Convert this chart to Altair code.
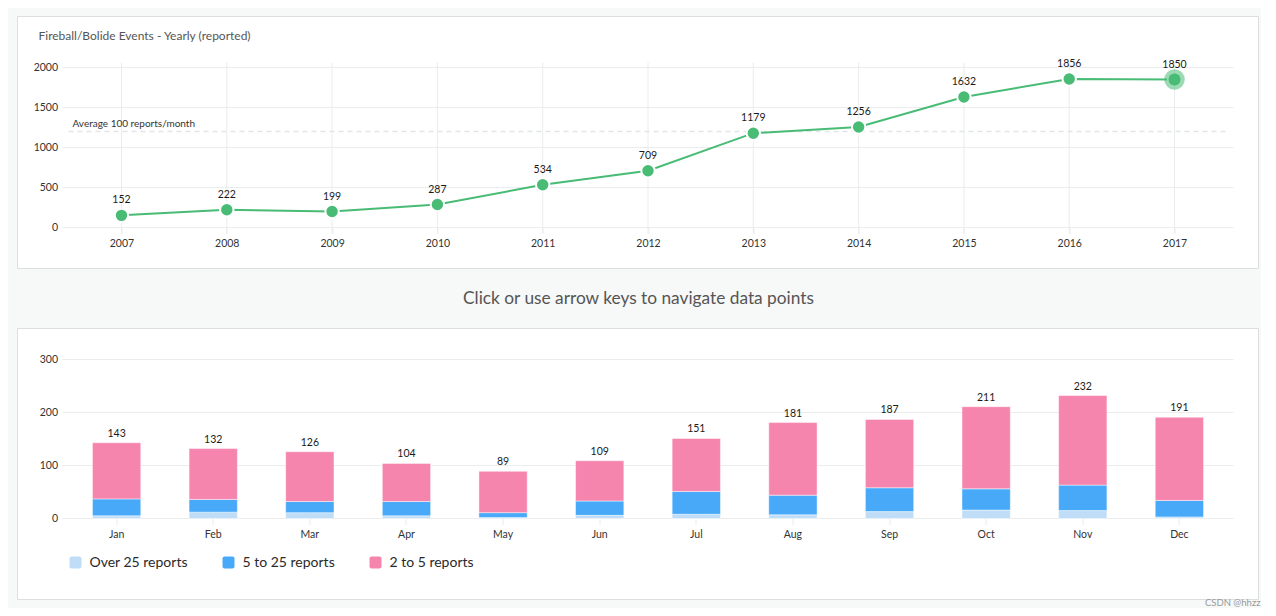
import altair as alt
import pandas as pd

# ---------------- data ----------------
years = ["2007", "2008", "2009", "2010", "2011", "2012", "2013", "2014", "2015", "2016", "2017"]
yearly_reports = [152, 222, 199, 287, 534, 709, 1179, 1256, 1632, 1856, 1850]
selected_year = "2017"
average_monthly = 100
top_y_ticks = [0, 500, 1000, 1500, 2000]

months = ["Jan", "Feb", "Mar", "Apr", "May", "Jun", "Jul", "Aug", "Sep", "Oct", "Nov", "Dec"]
over_25 = [5, 12, 11, 5, 2, 6, 8, 7, 13, 16, 15, 3]
five_to_25 = [32, 24, 21, 27, 9, 27, 43, 37, 45, 40, 48, 31]
two_to_5 = [106, 96, 94, 72, 78, 76, 100, 137, 129, 155, 169, 157]
series_names = ["Over 25 reports", "5 to 25 reports", "2 to 5 reports"]
series_colors = ["#c0ddf7", "#47a9f8", "#f685ae"]
bottom_y_ticks = [0, 100, 200, 300]

# ---------------- styles ----------------
BG = "#f7f8f8"
BORDER = "#dcdee0"
GRID = "#eaecee"
GREEN = "#48bb74"
FONT = "Lato"
W = 1171
H1 = 160
H2 = 159

top_df = pd.DataFrame({"year": years, "reports": yearly_reports})
top_grid_df = pd.DataFrame({"reports": top_y_ticks})

rows = []
for i, m in enumerate(months):
    for j, vals in enumerate([over_25, five_to_25, two_to_5]):
        rows.append({"month": m, "series": series_names[j], "count": vals[i], "ord": j})
bar_df = pd.DataFrame(rows)
bottom_grid_df = pd.DataFrame({"count": bottom_y_ticks})

one_row = alt.Data(values=[{"k": 0}])

# ---------------- top chart ----------------
x_top = alt.X(
    "year:O",
    scale=alt.Scale(type="point", padding=0.56),
    axis=alt.Axis(title=None, labelAngle=0, grid=False, domain=False, ticks=True,
                  tickColor=GRID, tickSize=6, labelPadding=5, labelColor="#333",
                  labelFontSize=10.5, zindex=1),
)
y_top = alt.Y(
    "reports:Q",
    scale=alt.Scale(domain=[0, 2000], nice=False),
    axis=alt.Axis(title=None, values=top_y_ticks, format="d", grid=False, domain=False,
                  ticks=False, labelPadding=5, labelColor="#333", labelFontSize=10.5,
                  zindex=1),
)

panel_top = alt.Chart(one_row).mark_rect(fill="white", stroke=BORDER, strokeWidth=1).encode(
    x=alt.value(-45), x2=alt.value(W + 25), y=alt.value(-51), y2=alt.value(H1 + 41)
)
title_top = alt.Chart(one_row).mark_text(
    text="Fireball/Bolide Events - Yearly (reported)", align="left", baseline="middle",
    fontSize=12, color="#555"
).encode(x=alt.value(-24), y=alt.value(-32))
hgrid_top = alt.Chart(top_grid_df).mark_rule(color=GRID, strokeWidth=1).encode(
    y=y_top, x=alt.value(0), x2=alt.value(W)
)
vgrid_top = alt.Chart(top_df).mark_rule(color=GRID, strokeWidth=1).encode(
    x=x_top, y=alt.value(-5), y2=alt.value(H1 + 6)
)
avg_df = pd.DataFrame({"reports": [average_monthly * 12]})
avg_rule = alt.Chart(avg_df).mark_rule(color="#e2e5e8", strokeWidth=1.5, strokeDash=[5, 4]).encode(
    y=y_top, x=alt.value(6), x2=alt.value(W - 8)
)
avg_label = alt.Chart(avg_df).mark_text(
    text="Average 100 reports/month", align="left", baseline="middle", dy=-8,
    fontSize=10, color="#333"
).encode(y=y_top, x=alt.value(10))
line = alt.Chart(top_df).mark_line(color=GREEN, strokeWidth=2).encode(x=x_top, y=y_top)
points = alt.Chart(top_df).mark_circle(
    size=180, color=GREEN, opacity=1, stroke="white", strokeWidth=2
).encode(x=x_top, y=y_top)
selected = alt.Chart(top_df).transform_filter(alt.datum.year == selected_year)
halo = selected.mark_circle(size=420, color=GREEN, opacity=0.55).encode(x=x_top, y=y_top)
selected_point = selected.mark_circle(size=140, color=GREEN, opacity=1).encode(x=x_top, y=y_top)
point_labels = alt.Chart(top_df).mark_text(
    dy=-10, baseline="bottom", fontSize=10.5, color="#1a1a1a"
).encode(x=x_top, y=y_top, text="reports:Q")

top = alt.layer(
    panel_top, hgrid_top, vgrid_top, avg_rule, avg_label, line, points, halo,
    selected_point, point_labels, title_top
).properties(width=W, height=H1)

# ---------------- bottom chart ----------------
x_bot = alt.X(
    "month:N",
    sort=months,
    scale=alt.Scale(paddingInner=0.5, paddingOuter=0.31),
    axis=alt.Axis(title=None, labelAngle=0, grid=False, domain=False, ticks=True,
                  tickColor=GRID, tickSize=6, labelPadding=5, labelColor="#333",
                  labelFontSize=10.5, zindex=1),
)
y_axis_bot = alt.Axis(title=None, values=bottom_y_ticks, grid=False, domain=False, ticks=False,
                      labelPadding=5, labelColor="#333", labelFontSize=10.5, zindex=1)
y_scale_bot = alt.Scale(domain=[0, 300], nice=False)

rounded_square = ("M -0.65 -1 L 0.65 -1 Q 1 -1 1 -0.65 L 1 0.65 Q 1 1 0.65 1 L -0.65 1 "
                  "Q -1 1 -1 0.65 L -1 -0.65 Q -1 -1 -0.65 -1 Z")

panel_bot = alt.Chart(one_row).mark_rect(fill="white", stroke=BORDER, strokeWidth=1).encode(
    x=alt.value(-45), x2=alt.value(W + 25), y=alt.value(-31), y2=alt.value(H2 + 81)
)
hgrid_bot = alt.Chart(bottom_grid_df).mark_rule(color=GRID, strokeWidth=1).encode(
    y=alt.Y("count:Q", scale=y_scale_bot, axis=y_axis_bot), x=alt.value(0), x2=alt.value(W)
)
bars = alt.Chart(bar_df).mark_bar(stroke="white", strokeWidth=1, strokeOpacity=0.45).encode(
    x=x_bot,
    y=alt.Y("count:Q", stack="zero", scale=y_scale_bot, axis=y_axis_bot),
    color=alt.Color(
        "series:N",
        scale=alt.Scale(domain=series_names, range=series_colors),
        legend=alt.Legend(
            title=None, orient="none", legendX=6, legendY=196, direction="horizontal",
            symbolType=rounded_square, symbolSize=144, symbolStrokeWidth=0,
            labelFontSize=14, labelColor="#2a2a2a", labelOffset=7, columnPadding=33,
        ),
    ),
    order=alt.Order("ord:Q"),
)
totals = alt.Chart(bar_df).transform_aggregate(
    count="sum(count)", groupby=["month"]
).mark_text(dy=-4, baseline="bottom", fontSize=10.5, color="#1a1a1a").encode(
    x=x_bot, y=alt.Y("count:Q", scale=y_scale_bot, axis=y_axis_bot), text="count:Q"
)
nav_text = alt.Chart(one_row).mark_text(
    text="Click or use arrow keys to navigate data points", align="center", baseline="middle",
    fontSize=17.3, color="#555"
).encode(x=alt.value(576), y=alt.value(-61))
watermark = alt.Chart(one_row).mark_text(
    text="CSDN @hhzz", align="right", baseline="middle", fontSize=9.5, color="#9a9a9a"
).encode(x=alt.value(1198), y=alt.value(243))

bottom = alt.layer(panel_bot, hgrid_bot, bars, totals, nav_text, watermark).properties(
    width=W, height=H2
)

chart = alt.vconcat(top, bottom, spacing=132, bounds="flush").resolve_scale(
    color="independent"
).resolve_legend(color="independent").properties(
    background=BG, padding={"left": 8.5, "top": 7.5, "right": 0, "bottom": 0}
).configure(font=FONT).configure_view(strokeWidth=0)

chart.save("out.html", embed_options={"renderer": "svg", "actions": False})
